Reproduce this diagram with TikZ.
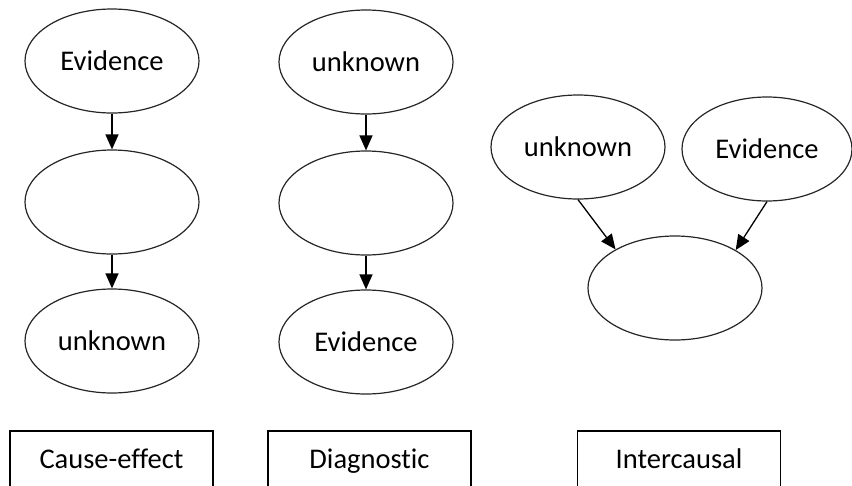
\documentclass[tikz,border=0pt]{standalone}
\usepackage{fontspec}
\setmainfont{Carlito}[Ligatures=NoCommon]
\usetikzlibrary{shapes.geometric,arrows.meta}
\begin{document}
\begin{tikzpicture}[x=1pt,y=-1pt,
  txt/.style={font=\fontsize{28.5}{34}\selectfont,text height=18.5pt,text depth=0pt},
  var/.style={ellipse,draw=black!85,line width=1.2pt,minimum width=174pt,minimum height=104pt,inner sep=0pt,txt},
  link/.style={line width=1.3pt,-{Triangle[length=15pt,width=13pt]}},
  kind/.style={rectangle,draw=black,line width=1.8pt,minimum width=203pt,minimum height=56pt,inner sep=0pt,txt}]
\useasboundingbox (0,0) rectangle (852,485);
\clip (0,0) rectangle (852,485);
% cause-effect chain
\node[var] (ce1) at (112,61) {Evidence};
\node[var] (ce2) at (112,202) {};
\node[var] (ce3) at (112,341) {unknown};
\draw[link] (ce1.south) -- (ce2.north);
\draw[link] (ce2.south) -- (ce3.north);
% diagnostic chain
\node[var] (dg1) at (366,62) {unknown};
\node[var] (dg2) at (366,203) {};
\node[var] (dg3) at (366,342) {Evidence};
\draw[link] (dg1.south) -- (dg2.north);
\draw[link] (dg2.south) -- (dg3.north);
% intercausal v-structure
\node[var] (ic1) at (578,147) {unknown};
\node[var,minimum width=170pt] (ic2) at (767,149) {Evidence};
\node[var] (ic3) at (675,288) {};
\draw[link] (ic1.south) -- (ic3.147);
\draw[link] (ic2.south) -- (ic3.32);
% labels
\node[kind] (lce) at (111.5,459) {Cause-effect};
\node[kind] (ldg) at (369.5,459) {Diagnostic};
\node[kind] (lic) at (679,459) {Intercausal};
\end{tikzpicture}
\end{document}
